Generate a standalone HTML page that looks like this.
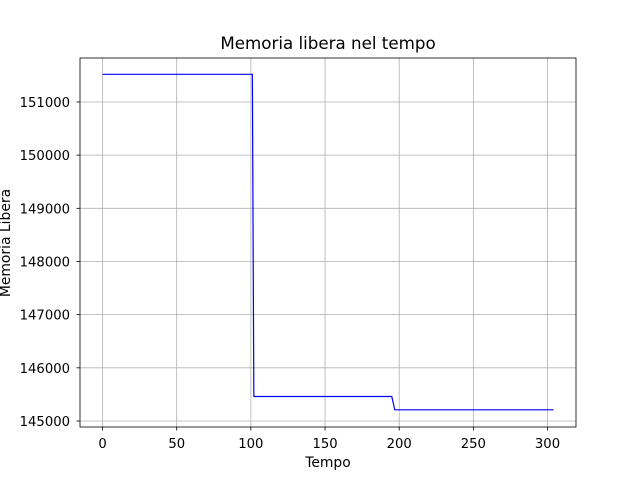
<!DOCTYPE html>
<html><head><meta charset="utf-8"><style>
body{margin:0;background:#fff;}
svg{display:block;font-family:"DejaVu Sans","Liberation Sans",sans-serif;}
</style></head><body>
<svg id="chart" width="640" height="480">
<rect x="0" y="0" width="640" height="480" fill="#fff"/>
<text x="328" y="49" font-size="16.7" text-anchor="middle">Memoria libera nel tempo</text>
<g id="grid"></g>
<g id="ticks"></g>
<polyline id="line" fill="none" stroke="#0000ff" stroke-width="1.2"/>
<rect x="80" y="58" width="496" height="369" fill="none" stroke="#000" stroke-width="0.8"/>
<text x="328" y="467" font-size="13.9" text-anchor="middle">Tempo</text>
<text transform="translate(10,243) rotate(-90)" font-size="13.9" text-anchor="middle">Memoria Libera</text>
</svg>
<script>
const xs = [0, 101, 102, 195, 197, 304];
const ys = [151520, 151520, 145460, 145460, 145210, 145210];
const xTicks = [0, 50, 100, 150, 200, 250, 300];
const yTicks = [145000, 146000, 147000, 148000, 149000, 150000, 151000];
const L=80,R=576,T=58,B=427;
const xMin=-15.2,xMax=319.2,yMin=144887,yMax=151827;
const sx=v=>L+(v-xMin)/(xMax-xMin)*(R-L);
const sy=v=>B-(v-yMin)/(yMax-yMin)*(B-T);
const ns="http://www.w3.org/2000/svg";
const grid=document.getElementById('grid'),ticks=document.getElementById('ticks');
function mk(tag,attrs,parent){const e=document.createElementNS(ns,tag);for(const k in attrs)e.setAttribute(k,attrs[k]);parent.appendChild(e);return e;}
xTicks.forEach(t=>{const x=sx(t);
 const g=mk('line',{x1:x,x2:x,y1:T,y2:B,stroke:'#b0b0b0','stroke-width':0.8},grid);
 
 
 mk('line',{x1:x,x2:x,y1:B,y2:B+3.5,stroke:'#000','stroke-width':0.8},ticks);
 const tx=mk('text',{x:x,y:B+21,'font-size':13.2,'text-anchor':'middle'},ticks);tx.textContent=t;
 
 
});
yTicks.forEach(t=>{const y=sy(t);
 const g=mk('line',{x1:L,x2:R,y1:y,y2:y,stroke:'#b0b0b0','stroke-width':0.8},grid);
 
 
 mk('line',{x1:L-3.5,x2:L,y1:y,y2:y,stroke:'#000','stroke-width':0.8},ticks);
 const tx=mk('text',{x:L-10,y:y+5,'font-size':13.2,'text-anchor':'end'},ticks);tx.textContent=t;
 
 
});
document.getElementById('line').setAttribute('points',xs.map((x,i)=>sx(x)+','+sy(ys[i])).join(' '));
</script>
</body></html>
